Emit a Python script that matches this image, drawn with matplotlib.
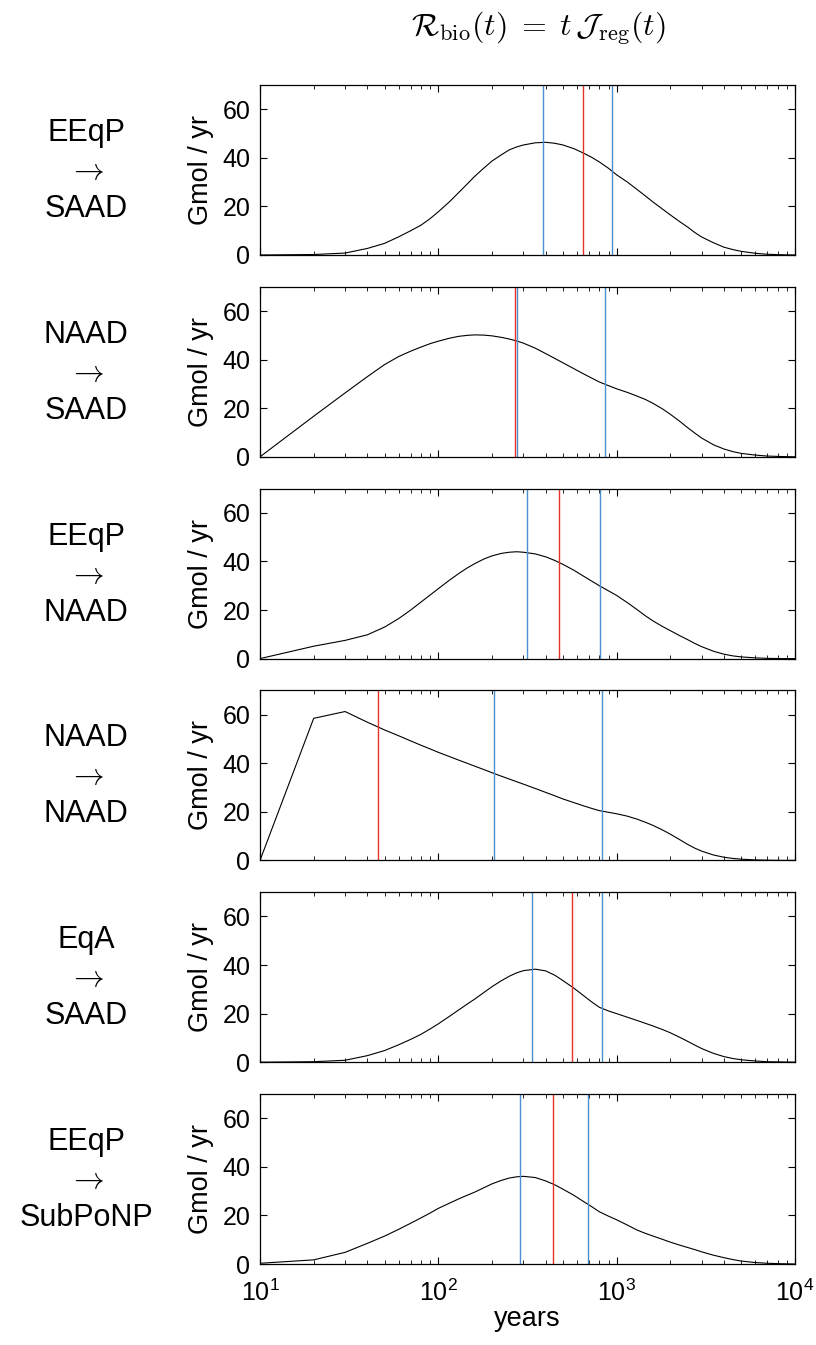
import numpy as np
import matplotlib.pyplot as plt
from matplotlib.ticker import LogLocator, NullFormatter

plt.rcParams['font.family'] = ['Liberation Sans', 'DejaVu Sans']

# ---- data ----
years = [10, 20, 30, 40, 50, 60, 70, 80, 90, 100,
         115, 130, 145, 160, 180, 200,
         225, 250, 275, 300, 350, 400, 450, 500,
         575, 650, 725, 800, 900, 1000,
         1150, 1300, 1450, 1600, 1800, 2000,
         2250, 2500, 2750, 3000, 3500, 4000,
         4500, 5000, 6000, 7000, 8500, 10000]

eeqp_saad = [0, 0.2, 0.8, 2.7, 4.8, 7.5, 10.0, 12.3, 15.0, 17.8,
             21.8, 25.7, 29.2, 32.4, 35.8, 38.7,
             41.2, 43.3, 44.5, 45.3, 46.2, 46.4, 46.0, 45.3,
             43.8, 42.0, 40.2, 38.3, 35.7, 33.0,
             30.0, 27.0, 24.3, 21.8, 19.0, 16.5,
             13.8, 11.5, 9.2, 7.4, 5.0, 3.2,
             2.2, 1.5, 0.7, 0.3, 0.1, 0]
naad_saad = [0, 16.7, 26.3, 33.0, 38.0, 41.3, 43.5, 45.2, 46.6, 47.6,
             48.8, 49.6, 50.0, 50.2, 50.1, 49.8,
             49.2, 48.5, 47.7, 46.8, 44.7, 42.5, 40.5, 38.7,
             36.3, 34.2, 32.4, 30.8, 29.3, 28.0,
             26.5, 25.0, 23.6, 22.0, 19.8, 17.5,
             14.7, 12.0, 9.7, 7.7, 4.9, 3.2,
             2.1, 1.4, 0.7, 0.3, 0.1, 0]
eeqp_naad = [0, 5.1, 7.5, 9.8, 13.0, 16.5, 20.0, 23.3, 26.2, 28.8,
             32.2, 35.0, 37.3, 39.1, 41.0, 42.3,
             43.3, 43.8, 44.0, 43.8, 43.1, 41.9, 40.4, 38.8,
             36.4, 34.0, 31.9, 30.0, 27.9, 26.0,
             23.0, 20.2, 17.6, 15.5, 13.3, 11.5,
             9.5, 7.8, 6.2, 4.9, 3.0, 1.8,
             1.1, 0.7, 0.3, 0.1, 0, 0]
naad_naad = [0, 58.5, 61.3, 56.9, 53.7, 51.3, 49.2, 47.4, 45.9, 44.5,
             42.8, 41.3, 40.0, 38.8, 37.4, 36.1,
             34.7, 33.5, 32.4, 31.4, 29.6, 28.0, 26.6, 25.3,
             23.8, 22.5, 21.4, 20.5, 19.8, 19.2,
             18.2, 17.0, 15.7, 14.4, 12.6, 10.8,
             8.6, 6.6, 5.0, 3.8, 2.2, 1.3,
             0.8, 0.5, 0.2, 0.1, 0, 0]
eqa_saad = [0, 0.2, 0.8, 2.7, 4.8, 7.2, 9.4, 11.5, 13.7, 15.8,
            18.8, 21.5, 23.9, 26.0, 28.7, 31.1,
            33.5, 35.4, 36.8, 37.7, 38.3, 37.6, 35.8, 33.6,
            30.5, 27.5, 24.8, 22.6, 21.1, 20.0,
            18.5, 17.2, 16.0, 14.9, 13.5, 12.1,
            10.3, 8.6, 7.0, 5.6, 3.6, 2.3,
            1.5, 1.0, 0.5, 0.2, 0.1, 0]
eeqp_subponp = [0.3, 1.7, 4.8, 8.5, 11.5, 14.3, 16.8, 19.0, 21.0, 22.9,
                25.0, 26.8, 28.3, 29.6, 31.4, 33.0,
                34.4, 35.4, 35.9, 36.1, 35.6, 34.2, 32.6, 30.8,
                28.3, 25.8, 23.6, 21.5, 19.7, 18.2,
                16.0, 14.0, 12.6, 11.5, 10.2, 9.0,
                7.8, 6.8, 5.9, 5.0, 3.6, 2.6,
                1.8, 1.2, 0.6, 0.3, 0.1, 0]

sources = ['EEqP', 'NAAD', 'EEqP', 'NAAD', 'EqA', 'EEqP']
targets = ['SAAD', 'SAAD', 'NAAD', 'NAAD', 'SAAD', 'SubPoNP']
curves = [eeqp_saad, naad_saad, eeqp_naad, naad_naad, eqa_saad, eeqp_subponp]

# vertical markers (years)
blue_lines = [[384, 946], [275, 855], [315, 809], [204, 824], [335, 824], [286, 694]]
red_lines = [[647], [269], [473], [46], [564], [440]]

ytick_vals = [0, 20, 40, 60]

# ---- figure ----
W, H = 816, 1345
fig = plt.figure(figsize=(W / 100, H / 100), dpi=100)

ax_left, ax_w, ax_h = 260, 535, 170
blue = '#4a8fd0'
red = '#e8302a'

for i in range(6):
    top = 85 + 201.8 * i
    ax = fig.add_axes([ax_left / W, 1 - (top + ax_h) / H, ax_w / W, ax_h / H])
    ax.plot(years, curves[i], color='black', lw=0.8)
    for x in blue_lines[i]:
        ax.axvline(x, color=blue, lw=1.0)
    for x in red_lines[i]:
        ax.axvline(x, color=red, lw=1.0)

    ax.set_xscale('log')
    ax.set_xlim(10, 10000)
    ax.set_ylim(0, 70)
    ax.set_yticks(ytick_vals)
    ax.xaxis.set_minor_locator(LogLocator(base=10, subs=np.arange(2, 10), numticks=20))
    ax.xaxis.set_minor_formatter(NullFormatter())
    ax.tick_params(which='both', direction='in', top=True, right=True, labelsize=18)
    ax.tick_params(axis='y', pad=7)
    ax.tick_params(axis='x', pad=11)
    ax.tick_params(which='major', length=5, width=0.8)
    ax.tick_params(which='minor', length=3, width=0.6)
    for s in ax.spines.values():
        s.set_linewidth(0.9)
    if i < 5:
        ax.tick_params(labelbottom=False)
    else:
        ax.set_xlabel('years', fontsize=19.5, labelpad=0)
    ax.set_ylabel('Gmol / yr', fontsize=19.5, labelpad=6)

    fig.text(86 / W, 1 - (top + ax_h / 2 + 1) / H,
             sources[i] + '\n' + r'$\rightarrow$' + '\n' + targets[i],
             ha='center', va='center', fontsize=22, linespacing=1.35,
             math_fontfamily='cm')

fig.text(538 / W, 1 - 28 / H,
         r'$\mathcal{R}_{\mathrm{bio}}(t)\;=\;t\,\mathcal{J}_{\mathrm{reg}}(t)$',
         ha='center', va='center', fontsize=23, math_fontfamily='cm')

fig.savefig('out.png', dpi=100)
